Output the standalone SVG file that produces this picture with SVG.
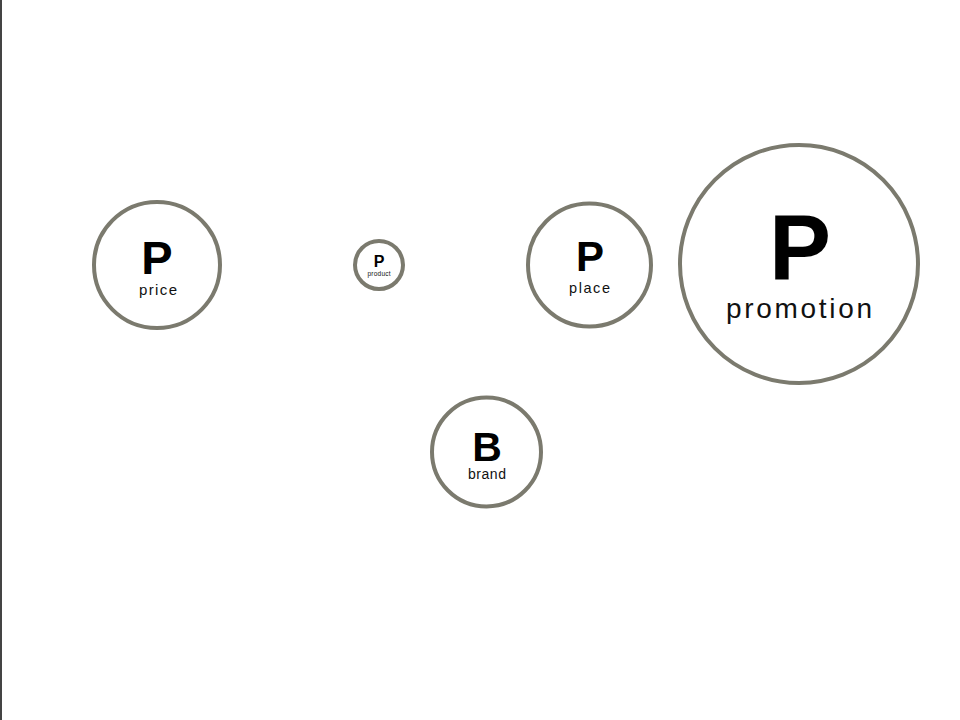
<svg xmlns="http://www.w3.org/2000/svg" width="960" height="720" viewBox="0 0 960 720">
<style>
.ring{fill:#fff;stroke:#7b7a6e;stroke-width:4}
.big{font-family:"Liberation Sans",Arial,sans-serif;font-weight:bold;fill:#000;text-anchor:middle}
.lab{font-family:"Liberation Sans",Arial,sans-serif;fill:#111;text-anchor:middle}
</style>
<rect x="0" y="0" width="960" height="720" fill="#fff"/>
<line x1="1" y1="0" x2="1" y2="720" stroke="#444" stroke-width="2"/>
<g id="connectors"></g>
<g id="price">
<circle class="ring" cx="157" cy="265" r="63"/>
<text class="big" x="157" y="274" font-size="47">P</text>
<text class="lab" x="158" y="295" font-size="15" textLength="38">price</text>
</g>
<g id="product">
<circle class="ring" cx="379" cy="265" r="24"/>
<text class="big" x="379" y="267" font-size="16">P</text>
<text class="lab" x="379" y="276" font-size="6.5" textLength="23">product</text>
</g>
<g id="place">
<circle class="ring" cx="589.5" cy="265" r="61.5"/>
<text class="big" x="590" y="271" font-size="42">P</text>
<text class="lab" x="589.5" y="293" font-size="14.5" textLength="41">place</text>
</g>
<g id="promotion">
<circle class="ring" cx="799" cy="264" r="119"/>
<text class="big" x="800" y="280" font-size="93">P</text>
<text class="lab" x="799" y="318" font-size="28" textLength="146">promotion</text>
</g>
<g id="brand">
<circle class="ring" cx="486.5" cy="452" r="54.5"/>
<text class="big" x="487" y="461" font-size="41">B</text>
<text class="lab" x="487" y="479" font-size="14" textLength="38">brand</text>
</g>
</svg>
